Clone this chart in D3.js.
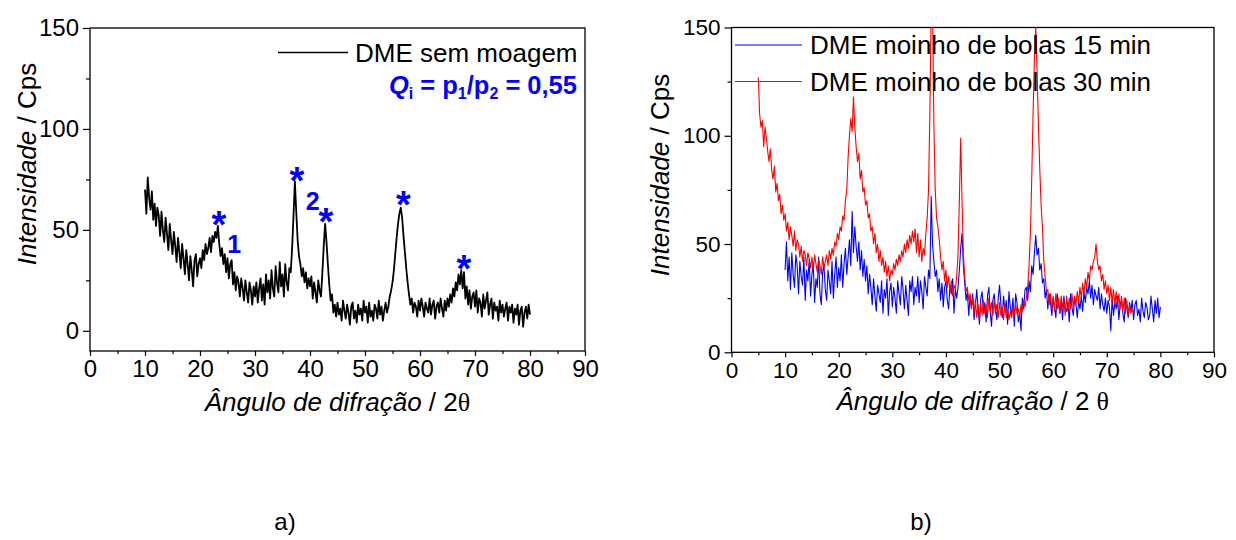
<!DOCTYPE html>
<html>
<head>
<meta charset="utf-8">
<script src="https://cdn.jsdelivr.net/npm/d3@7"></script>
<style>
  body { margin: 0; background: #fff; }
  svg { display: block; font-family: "Liberation Sans", Arial, sans-serif; }
</style>
</head>
<body>
<svg id="chart" width="1236" height="540"></svg>
<script>
// step of the diffractograms, in degrees 2 theta
var step = 0.25;

// a) DME sem moagem, from 10 to 80
var semMoagemStart = 10;
var semMoagem = [
  70, 58, 76, 66, 60, 69, 55, 63, 52, 61, 57, 47, 59, 50, 44, 56, 48, 40, 53, 45,
  38, 49, 42, 34, 46, 39, 31, 43, 36, 28, 40, 33, 25, 37, 30, 22, 35, 38, 27, 33,
  36, 31, 40, 35, 43, 38, 41, 46, 39, 47, 44, 49, 46, 52, 43, 37, 41, 33, 38, 29,
  36, 26, 33, 35, 23, 29, 20, 27, 24, 17, 26, 21, 15, 25, 19, 14, 24, 20, 13, 22,
  17, 24, 14, 21, 26, 15, 23, 13, 28, 19, 25, 16, 30, 21, 17, 32, 24, 19, 34, 22,
  28, 17, 33, 24, 20, 31, 29, 41, 57, 74, 59, 45, 37, 33, 27, 31, 24, 29, 21, 26,
  22, 27, 16, 24, 19, 14, 25, 20, 17, 29, 42, 53, 44, 33, 23, 15, 18, 9, 13, 7,
  14, 8, 11, 5, 15, 10, 6, 13, 9, 3, 12, 14, 6, 10, 4, 13, 8, 11, 5, 15,
  9, 12, 4, 14, 7, 10, 5, 13, 11, 6, 15, 8, 12, 5, 10, 14, 9, 12, 17, 20,
  24, 30, 38, 46, 53, 58, 61, 56, 47, 39, 31, 24, 18, 13, 16, 9, 14, 12, 7, 15,
  10, 16, 12, 7, 14, 11, 9, 16, 8, 13, 15, 6, 12, 14, 9, 16, 11, 7, 15, 10,
  16, 12, 18, 14, 21, 17, 24, 20, 28, 23, 30, 21, 29, 16, 22, 13, 20, 11, 17, 19,
  12, 20, 9, 16, 14, 7, 18, 11, 15, 19, 8, 13, 16, 6, 14, 10, 12, 5, 15, 9,
  13, 7, 11, 14, 5, 12, 9, 13, 4, 11, 8, 13, 3, 10, 12, 2, 9, 12, 6, 13,
  8
];

// b) DME moinho de bolas 15 min, from 10 to 80
var moinho15Start = 10;
var moinho15 = [
  38, 51, 33, 44, 29, 46, 36, 30, 45, 40, 27, 42, 35, 31, 44, 24, 38, 33, 43, 26,
  36, 41, 23, 34, 30, 44, 27, 22, 37, 40, 29, 24, 38, 33, 27, 42, 25, 36, 44, 30,
  39, 33, 45, 30, 41, 48, 36, 44, 52, 40, 65, 46, 58, 49, 42, 51, 38, 47, 35, 43,
  33, 40, 27, 36, 30, 22, 34, 26, 19, 31, 27, 23, 33, 18, 29, 25, 34, 17, 28, 32,
  21, 30, 25, 18, 33, 27, 22, 35, 29, 20, 31, 24, 17, 33, 28, 35, 22, 30, 26, 35,
  23, 33, 28, 20, 35, 30, 26, 38, 34, 72, 50, 42, 35, 38, 28, 34, 24, 32, 21, 30,
  33, 24, 20, 31, 27, 34, 18, 29, 25, 30, 38, 48, 55, 40, 32, 24, 28, 17, 26, 21,
  27, 15, 22, 29, 20, 13, 25, 28, 18, 23, 14, 26, 30, 19, 12, 24, 27, 20, 15, 25,
  31, 22, 16, 26, 19, 24, 13, 28, 21, 17, 25, 12, 27, 23, 14, 18, 10, 25, 20, 29,
  30, 24, 33, 28, 40, 36, 46, 54, 45, 48, 38, 41, 32, 34, 25, 29, 20, 27, 23, 17,
  25, 21, 16, 27, 22, 18, 24, 15, 26, 20, 19, 23, 14, 27, 21, 17, 25, 22, 16, 24,
  20, 26, 19, 28, 23, 30, 27, 33, 25, 31, 22, 29, 26, 24, 30, 20, 27, 22, 19, 25,
  18, 24, 21, 10, 25, 17, 23, 20, 26, 15, 22, 24, 18, 14, 25, 21, 16, 23, 19, 24,
  15, 22, 24, 17, 20, 14, 25, 19, 16, 23, 21, 15, 17, 26, 20, 14, 24, 18, 25, 16,
  21
];

// b) DME moinho de bolas 30 min, from 5 to 75
var moinho30Start = 5;
var moinho30 = [
  127, 110, 104, 107, 95, 104, 99, 93, 88, 94, 84, 80, 86, 74, 78, 70, 73, 64, 68, 61,
  64, 56, 60, 52, 58, 54, 49, 56, 47, 52, 50, 44, 49, 42, 47, 45, 40, 46, 43, 39,
  44, 38, 45, 41, 37, 43, 40, 36, 44, 39, 42, 45, 40, 47, 43, 48, 45, 51, 49, 55,
  52, 58, 56, 63, 61, 70, 75, 90, 100, 108, 102, 118, 104, 95, 88, 92, 80, 84, 74, 76,
  68, 70, 62, 64, 56, 58, 50, 55, 46, 50, 42, 47, 40, 44, 37, 42, 35, 40, 33, 38,
  36, 41, 38, 43, 40, 45, 42, 47, 44, 50, 46, 52, 48, 54, 50, 56, 51, 57, 46, 55,
  44, 52, 42, 48, 45, 55, 62, 75, 110, 160, 160, 105, 75, 62, 58, 52, 44, 38, 42, 33,
  38, 30, 35, 28, 33, 26, 31, 29, 35, 45, 70, 99, 70, 45, 35, 28, 30, 24, 27, 20,
  25, 18, 24, 16, 22, 15, 23, 17, 24, 18, 22, 16, 25, 19, 23, 17, 24, 18, 22, 16,
  23, 17, 21, 15, 22, 16, 20, 15, 19, 16, 21, 17, 22, 18, 20, 16, 22, 19, 24, 21,
  25, 30, 40, 55, 80, 110, 135, 150, 130, 105, 85, 68, 58, 42, 35, 28, 29, 22, 27, 20,
  26, 19, 27, 20, 25, 18, 26, 21, 24, 17, 26, 19, 25, 20, 27, 21, 26, 22, 28, 23,
  30, 25, 32, 27, 34, 30, 37, 33, 40, 38, 42, 44, 50, 42, 38, 40, 33, 36, 29, 33,
  27, 31, 24, 30, 23, 29, 22, 28, 21, 27, 20, 26, 19, 25, 18, 24, 17, 22, 18, 20,
  18
];

// axis ticks
var xTicks = [0, 10, 20, 30, 40, 50, 60, 70, 80, 90];
var xMinorTicks = [5, 15, 25, 35, 45, 55, 65, 75, 85];
var yTicks = [0, 50, 100, 150];
var yMinorTicks = [25, 75, 125];

// peaks marked with * in a) (angle, intensity)
var starAngles = [23.45, 37.6, 42.9, 57, 68];
var starValues = [57.3, 79.2, 58.6, 67.3, 35.6];
var peakLabels = ["1", "2"];
var peakLabelAngles = [26.2, 40.5];
var peakLabelValues = [43, 64.3];

function toPoints(start, values) {
  return values.map(function(v, i) { return {angle: start + i * step, value: v}; });
}

var svg = d3.select("#chart");

//draws frame, axes and titles of one panel and returns its scales
function drawPanel(box, yDomain, tickFont, clipId, thetaSep) {
  var x = d3.scaleLinear().domain([0, 90]).range([box.left, box.right]);
  var y = d3.scaleLinear().domain(yDomain).range([box.bottom, box.top]);

  svg.append("clipPath").attr("id", clipId)
    .append("rect")
    .attr("x", box.left).attr("y", box.top)
    .attr("width", box.right - box.left).attr("height", box.bottom - box.top);

  var g = svg.append("g");

  // x axis, major and minor ticks
  var xa = g.append("g")
    .attr("transform", "translate(0," + box.bottom + ")")
    .call(d3.axisBottom(x).tickValues(xTicks).tickSize(5).tickSizeOuter(0).tickPadding(box.xPad))
    .attr("font-size", tickFont).attr("font-family", "Liberation Sans, Arial, sans-serif");
  xa.select(".domain").remove();
  g.append("g")
    .attr("transform", "translate(0," + box.bottom + ")")
    .call(d3.axisBottom(x).tickValues(xMinorTicks).tickSize(3).tickSizeOuter(0).tickFormat(""))
    .select(".domain").remove();

  // y axis
  var ya = g.append("g")
    .attr("transform", "translate(" + box.left + ",0)")
    .call(d3.axisLeft(y).tickValues(yTicks).tickSize(7).tickSizeOuter(0).tickPadding(4))
    .attr("font-size", tickFont).attr("font-family", "Liberation Sans, Arial, sans-serif");
  ya.select(".domain").remove();
  g.append("g")
    .attr("transform", "translate(" + box.left + ",0)")
    .call(d3.axisLeft(y).tickValues(yMinorTicks).tickSize(4).tickSizeOuter(0).tickFormat(""))
    .select(".domain").remove();

  g.selectAll(".tick line").attr("stroke-width", 1.2);

  // frame
  g.append("rect")
    .attr("x", box.left).attr("y", box.top)
    .attr("width", box.right - box.left).attr("height", box.bottom - box.top)
    .attr("fill", "none").attr("stroke", "#000").attr("stroke-width", 1.3);

  // x title
  var xt = g.append("text")
    .attr("x", (box.left + box.right) / 2).attr("y", box.xTitleY)
    .attr("text-anchor", "middle").attr("font-size", 26);
  xt.append("tspan").attr("font-style", "italic").text("Ângulo de difração");
  xt.append("tspan").text(" / 2" + thetaSep);
  xt.append("tspan").attr("font-family", "Liberation Serif, serif").text("θ");

  // y title
  var yt = g.append("text")
    .attr("transform", "translate(" + box.yTitleX + "," + box.yTitleY + ") rotate(-90)")
    .attr("text-anchor", "middle").attr("font-size", 26);
  yt.append("tspan").attr("font-style", "italic").text("Intensidade");
  yt.append("tspan").text(" / Cps");

  return {x: x, y: y, g: g};
}

function drawSeries(panel, points, color, width, clipId) {
  var line = d3.line()
    .x(function(d) { return panel.x(d.angle); })
    .y(function(d) { return panel.y(d.value); });
  panel.g.append("path")
    .datum(points)
    .attr("clip-path", "url(#" + clipId + ")")
    .attr("fill", "none")
    .attr("stroke", color)
    .attr("stroke-width", width)
    .attr("stroke-linejoin", "round")
    .attr("d", line);
}

// ---- panel a)
var left = drawPanel(
  {left: 90, right: 585, top: 28, bottom: 351, xPad: 4, xTitleY: 411, yTitleX: 36, yTitleY: 164},
  [-10, 150], 24, "clipA", "");
drawSeries(left, toPoints(semMoagemStart, semMoagem), "#000", 1.8, "clipA");

// legend a)
left.g.append("line").attr("x1", 278).attr("x2", 348).attr("y1", 52.5).attr("y2", 52.5)
  .attr("stroke", "#000").attr("stroke-width", 1.5);
left.g.append("text").attr("x", 355).attr("y", 61.5).attr("font-size", 26).text("DME sem moagem");

var q = left.g.append("text").attr("x", 577).attr("y", 94).attr("text-anchor", "end")
  .attr("font-size", 25.5).attr("font-weight", "bold").attr("fill", "#0000ff");
q.append("tspan").attr("font-style", "italic").text("Q");
q.append("tspan").attr("font-size", 16).attr("dy", 5).text("i");
q.append("tspan").attr("dy", -5).text(" = p");
q.append("tspan").attr("font-size", 16).attr("dy", 5).text("1");
q.append("tspan").attr("dy", -5).text("/p");
q.append("tspan").attr("font-size", 16).attr("dy", 5).text("2");
q.append("tspan").attr("dy", -5).text(" = 0,55");

// peak marks
left.g.selectAll(".star")
  .data(starAngles)
  .enter().append("text")
  .attr("class", "star")
  .attr("x", function(d) { return left.x(d); })
  .attr("y", function(d, i) { return left.y(starValues[i]); })
  .attr("dy", "0.6em")
  .attr("text-anchor", "middle")
  .attr("font-size", 38).attr("font-weight", "bold").attr("fill", "#0000ff")
  .text("*");

left.g.selectAll(".peak")
  .data(peakLabels)
  .enter().append("text")
  .attr("class", "peak")
  .attr("x", function(d, i) { return left.x(peakLabelAngles[i]); })
  .attr("y", function(d, i) { return left.y(peakLabelValues[i]); })
  .attr("dy", "0.36em")
  .attr("text-anchor", "middle")
  .attr("font-size", 25).attr("font-weight", "bold").attr("fill", "#0000ff")
  .text(function(d) { return d; });

// ---- panel b)
var right = drawPanel(
  {left: 731.5, right: 1214, top: 27.5, bottom: 352.3, xPad: 4.5, xTitleY: 410, yTitleX: 669, yTitleY: 175},
  [0, 150], 22.5, "clipB", " ");
drawSeries(right, toPoints(moinho15Start, moinho15), "#0000ff", 1.1, "clipB");
drawSeries(right, toPoints(moinho30Start, moinho30), "#ff0000", 1.1, "clipB");

// legend b)
var legendB = [
  {label: "DME moinho de bolas 15 min", color: "#0000ff", y: 45},
  {label: "DME moinho de bolas 30 min", color: "#ff0000", y: 81.5}
];
legendB.forEach(function(item) {
  right.g.append("line").attr("x1", 735).attr("x2", 802).attr("y1", item.y).attr("y2", item.y)
    .attr("stroke", item.color).attr("stroke-width", 1.1);
  right.g.append("text").attr("x", 810).attr("y", item.y + 9).attr("font-size", 26).text(item.label);
});

// captions
svg.append("text").attr("x", 285).attr("y", 530).attr("text-anchor", "middle").attr("font-size", 24).text("a)");
svg.append("text").attr("x", 921).attr("y", 530).attr("text-anchor", "middle").attr("font-size", 24).text("b)");
</script>
</body>
</html>
